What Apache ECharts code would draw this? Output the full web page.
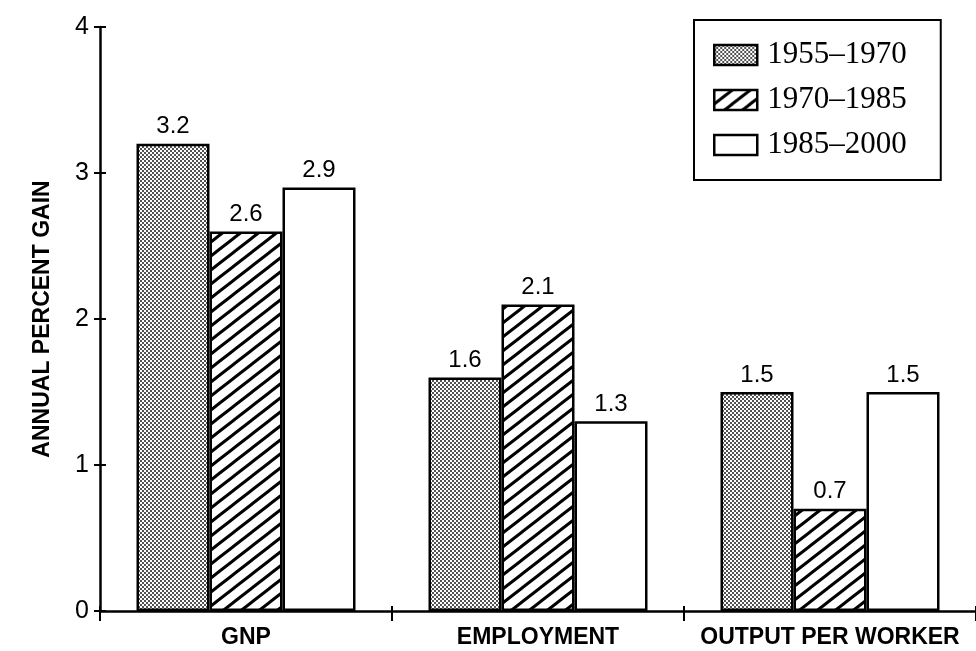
<!DOCTYPE html>
<html>
<head>
<meta charset="utf-8">
<script src="https://cdn.jsdelivr.net/npm/echarts@6/dist/echarts.min.js"></script>
<style>
  html, body { margin: 0; padding: 0; background: #fff; }
  #chart { width: 976px; height: 651px; }
</style>
</head>
<body>
<div id="chart"></div>
<script>
// Growth rates by period
const categories = ['GNP', 'EMPLOYMENT', 'OUTPUT PER WORKER'];
const periods = ['1955–1970', '1970–1985', '1985–2000'];
const gain1955to1970 = [3.2, 1.6, 1.5];
const gain1970to1985 = [2.6, 2.1, 0.7];
const gain1985to2000 = [2.9, 1.3, 1.5];
const yTicks = [0, 1, 2, 3, 4];

// Fill patterns: fine stipple and diagonal hatch
function stipple() {
  const c = document.createElement('canvas');
  c.width = 4; c.height = 4;
  const g = c.getContext('2d');
  g.fillStyle = '#fff'; g.fillRect(0, 0, 4, 4);
  g.fillStyle = '#000';
  g.beginPath(); g.arc(1, 1, 0.9, 0, Math.PI * 2); g.fill();
  g.beginPath(); g.arc(3, 3, 0.9, 0, Math.PI * 2); g.fill();
  return { image: c, repeat: 'repeat' };
}
function hatch() {
  const w = 18, h = 14;
  const c = document.createElement('canvas');
  c.width = w; c.height = h;
  const g = c.getContext('2d');
  g.fillStyle = '#fff'; g.fillRect(0, 0, w, h);
  g.strokeStyle = '#000'; g.lineWidth = 3;
  [-w, 0, w].forEach(function (dx) {
    g.beginPath();
    g.moveTo(dx - w, 2 * h);
    g.lineTo(dx + 2 * w, -h);
    g.stroke();
  });
  return { image: c, repeat: 'repeat' };
}

const fills = [stipple(), hatch(), '#ffffff'];
const seriesValues = [gain1955to1970, gain1970to1985, gain1985to2000];

const chart = echarts.init(document.getElementById('chart'), null, { renderer: 'canvas' });

chart.setOption({
  animation: false,
  backgroundColor: '#fff',
  grid: { left: 100, top: 27, width: 881, height: 584, containLabel: false },
  legend: {
    orient: 'vertical',
    left: 694, top: 20,
    padding: [19, 34, 19, 19],
    backgroundColor: '#fff',
    borderColor: '#000', borderWidth: 2,
    icon: 'rect',
    itemWidth: 43, itemHeight: 20, itemGap: 13,
    data: periods,
    textStyle: {
      fontFamily: '"Liberation Serif", "DejaVu Serif", serif',
      fontSize: 31, color: '#000', lineHeight: 32,
      padding: [0, 0, 0, 5]
    },
    itemStyle: { borderColor: '#000', borderWidth: 2.5 }
  },
  xAxis: [{
    type: 'category',
    data: categories,
    position: 'bottom',
    axisLine: { show: true, lineStyle: { color: '#000', width: 2.5 } },
    axisTick: { show: true, inside: false, length: 10, lineStyle: { color: '#000', width: 2 } },
    axisLabel: {
      interval: 0,
      margin: 15,
      color: '#000',
      fontFamily: '"Liberation Sans", Arial, sans-serif',
      fontWeight: 'bold', fontSize: 23
    },
    splitLine: { show: false }
  }, {
    type: 'category',
    data: categories,
    position: 'bottom',
    axisLine: { show: false },
    axisTick: { show: true, inside: true, length: 5, lineStyle: { color: '#000', width: 2 } },
    axisLabel: { show: false },
    splitLine: { show: false }
  }],
  yAxis: [{
    type: 'value',
    min: yTicks[0], max: yTicks[yTicks.length - 1], interval: 1,
    position: 'left',
    name: 'ANNUAL PERCENT GAIN',
    nameLocation: 'middle',
    nameGap: 46,
    nameTextStyle: {
      fontFamily: '"Liberation Sans", Arial, sans-serif',
      fontWeight: 'bold', fontSize: 23, color: '#000'
    },
    axisLine: { show: true, lineStyle: { color: '#000', width: 2.5 } },
    axisTick: { show: true, inside: false, length: 6, lineStyle: { color: '#000', width: 2 } },
    axisLabel: {
      margin: 11, color: '#000',
      fontFamily: '"Liberation Sans", Arial, sans-serif', fontSize: 25
    },
    splitLine: { show: false }
  }, {
    type: 'value',
    min: yTicks[0], max: yTicks[yTicks.length - 1], interval: 1,
    position: 'left',
    axisLine: { show: false },
    axisTick: { show: true, inside: true, length: 6, lineStyle: { color: '#000', width: 2 } },
    axisLabel: { show: false },
    splitLine: { show: false }
  }],
  series: periods.map(function (name, i) {
    return {
      name: name,
      type: 'bar',
      xAxisIndex: 0, yAxisIndex: 0,
      data: seriesValues[i],
      barWidth: 73,
      barGap: '0%',
      itemStyle: { color: fills[i], borderColor: '#000', borderWidth: 2.5 },
      label: {
        show: true, position: 'top', distance: 5,
        color: '#000',
        fontFamily: '"Liberation Sans", Arial, sans-serif', fontSize: 24,
        formatter: function (p) { return p.value.toFixed(1); }
      }
    };
  })
});
</script>
</body>
</html>
